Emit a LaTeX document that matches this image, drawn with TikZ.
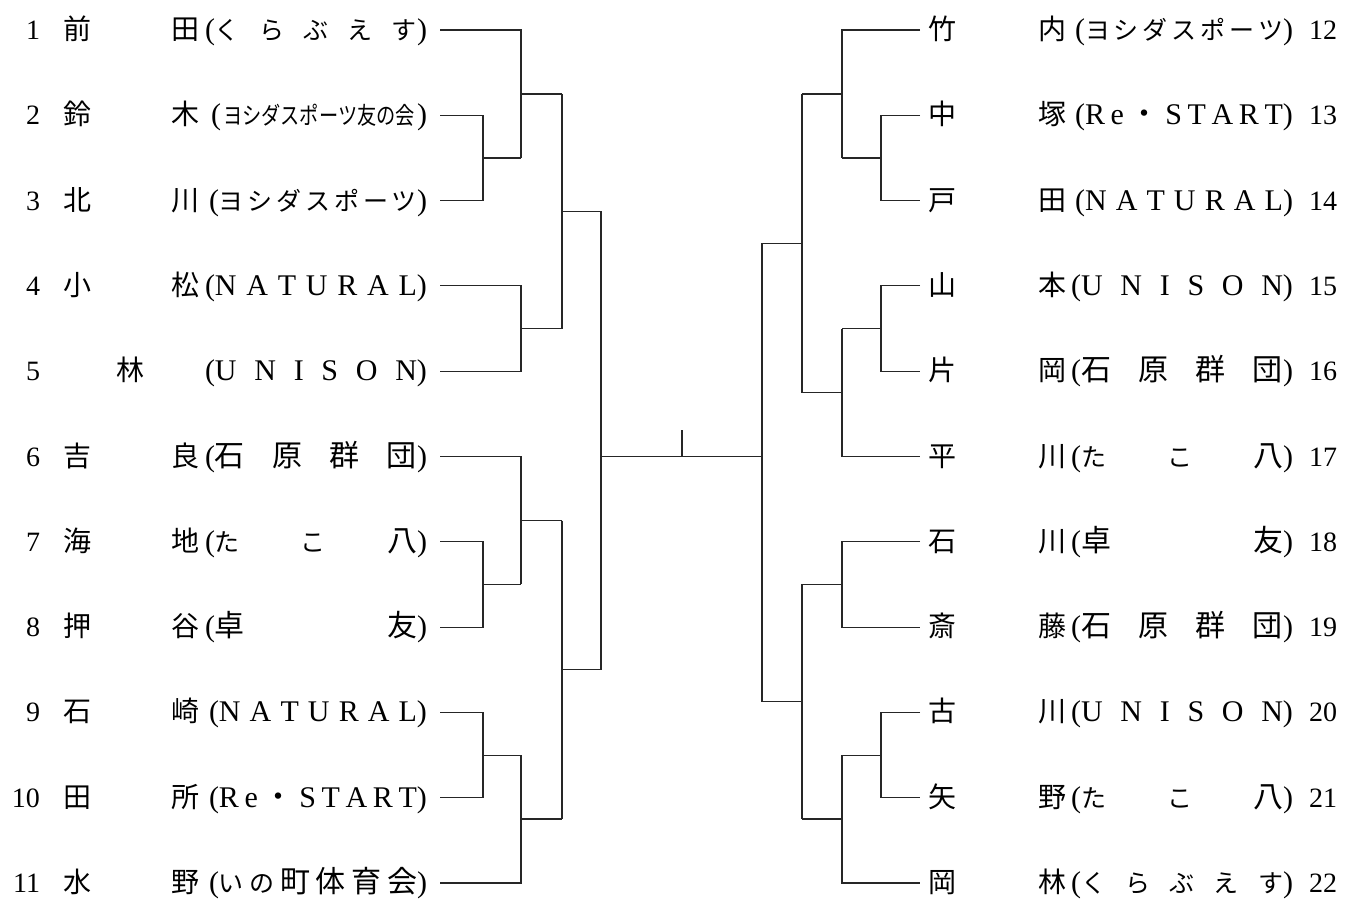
\documentclass[tikz,border=0pt]{standalone}
\usepackage{fontspec}
\usepackage{graphicx}
\setmainfont{Liberation Serif}
\newfontfamily\cjk{Noto Sans CJK JP}
\newcommand\J[1]{{\cjk #1}}
\newcommand\K[1]{{\cjk\fontsize{25}{25}\selectfont #1}}
\newcommand\BL{\fontsize{30}{30}\selectfont}
\newcommand\PB[1]{\hbox to 222pt{\BL #1}}
\newcommand\Lrow[6]{%
  \node[txt, anchor=base east] (n#1) at (40,#2+9.5) {#3};
  \node[txt, anchor=base] (a#1) at (77,#2+9.5) {\J{#4}};
  \node[txt, anchor=base] (b#1) at (185,#2+9.5) {\J{#5}};
  \node[txt, anchor=base west] (p#1) at (205,#2+9.5) {\PB{#6}};
  \coordinate (e#1) at (440,#2);
}
\newcommand\Rrow[6]{%
  \coordinate (e#1) at (920,#2);
  \node[txt, anchor=base] (a#1) at (942,#2+9.5) {\J{#4}};
  \node[txt, anchor=base] (b#1) at (1052,#2+9.5) {\J{#5}};
  \node[txt, anchor=base west] (p#1) at (1071,#2+9.5) {\PB{#6}};
  \node[txt, anchor=base west] (n#1) at (1309,#2+9.5) {#3};
}
\newcommand\NAT{(N\hfill A\hfill T\hfill U\hfill R\hfill A\hfill L)}
\newcommand\UNI{(U\hfill N\hfill I\hfill S\hfill O\hfill N)}
\newcommand\RES{(R\hfill e\hfill \J{・}\hfill S\hfill T\hfill A\hfill R\hfill T)}
\newcommand\YOS{(\K{ヨ}\hfill\K{シ}\hfill\K{ダ}\hfill\K{ス}\hfill\K{ポ}\hfill\K{ー}\hfill\K{ツ})}
\newcommand\KUR{(\K{く}\hfill\K{ら}\hfill\K{ぶ}\hfill\K{え}\hfill\K{す})}
\newcommand\ISH{(\J{石}\hfill\J{原}\hfill\J{群}\hfill\J{団})}
\newcommand\TAK{(\K{た}\hfill\K{こ}\hfill\J{八})}
\newcommand\TAKU{(\J{卓}\hfill\J{友})}
\begin{document}
\begin{tikzpicture}[x=1pt,y=-1pt,
  txt/.style={inner sep=0pt, outer sep=0pt, font=\fontsize{28}{28}\selectfont, text=black},
  lnk/.style={line width=1.1pt, draw=black!85}]
\useasboundingbox (0,0) rectangle (1349,898);
% left rows
\Lrow{1}{30}{1}{前}{田}{\KUR}
\Lrow{2}{115.3}{2}{鈴}{木}{\hspace{6pt}(\hfill\scalebox{0.8}[1]{\fontsize{24}{24}\cjk ヨシダスポーツ友の会}\hfill)}
\Lrow{3}{200.6}{3}{北}{川}{\hspace{4pt}\YOS}
\Lrow{4}{285.9}{4}{小}{松}{\NAT}
\node[txt, anchor=base east] (n5) at (40,380.7) {5};
\node[txt, anchor=base] (a5) at (130,380.7) {\J{林}};
\node[txt, anchor=base west] (p5) at (205,380.7) {\PB{\UNI}};
\coordinate (e5) at (440,371.2);
\Lrow{6}{456.5}{6}{吉}{良}{\ISH}
\Lrow{7}{541.8}{7}{海}{地}{\TAK}
\Lrow{8}{627.1}{8}{押}{谷}{\TAKU}
\Lrow{9}{712.4}{9}{石}{崎}{\hspace{4pt}\NAT}
\Lrow{10}{797.7}{10}{田}{所}{\hspace{4pt}\RES}
\Lrow{11}{883}{11}{水}{野}{\hspace{4pt}(\K{い}\hfill\K{の}\hfill\J{町}\hfill\J{体}\hfill\J{育}\hfill\J{会})}
% right rows
\Rrow{12}{30}{12}{竹}{内}{\hspace{4pt}\YOS}
\Rrow{13}{115.3}{13}{中}{塚}{\hspace{4pt}\RES}
\Rrow{14}{200.6}{14}{戸}{田}{\hspace{4pt}\NAT}
\Rrow{15}{285.9}{15}{山}{本}{\UNI}
\Rrow{16}{371.2}{16}{片}{岡}{\ISH}
\Rrow{17}{456.5}{17}{平}{川}{\TAK}
\Rrow{18}{541.8}{18}{石}{川}{\TAKU}
\Rrow{19}{627.1}{19}{斎}{藤}{\ISH}
\Rrow{20}{712.4}{20}{古}{川}{\UNI}
\Rrow{21}{797.7}{21}{矢}{野}{\TAK}
\Rrow{22}{883}{22}{岡}{林}{\KUR}
% left bracket points
\coordinate (k1) at (483,157.95); \coordinate (o1) at (521,157.95);
\coordinate (k2) at (521,94);     \coordinate (o2) at (562,94);
\coordinate (k3) at (521,328.55); \coordinate (o3) at (562,328.55);
\coordinate (k4) at (562,211.3);  \coordinate (o4) at (601,211.3);
\coordinate (k5) at (483,584.45); \coordinate (o5) at (521,584.45);
\coordinate (k6) at (521,520.5);  \coordinate (o6) at (562,520.5);
\coordinate (k7) at (483,755.05); \coordinate (o7) at (521,755.05);
\coordinate (k8) at (521,819);    \coordinate (o8) at (562,819);
\coordinate (k9) at (562,669.8);  \coordinate (o9) at (601,669.8);
\draw[lnk] (e2) -| (k1) |- (e3); \draw[lnk] (k1) -- (o1);
\draw[lnk] (e1) -| (k2) |- (o1); \draw[lnk] (k2) -- (o2);
\draw[lnk] (e4) -| (k3) |- (e5); \draw[lnk] (k3) -- (o3);
\draw[lnk] (o2) -| (k4) |- (o3); \draw[lnk] (k4) -- (o4);
\draw[lnk] (e7) -| (k5) |- (e8); \draw[lnk] (k5) -- (o5);
\draw[lnk] (e6) -| (k6) |- (o5); \draw[lnk] (k6) -- (o6);
\draw[lnk] (e9) -| (k7) |- (e10); \draw[lnk] (k7) -- (o7);
\draw[lnk] (o7) -| (k8) |- (e11); \draw[lnk] (k8) -- (o8);
\draw[lnk] (o6) -| (k9) |- (o8); \draw[lnk] (k9) -- (o9);
% right bracket points
\coordinate (j1) at (881,157.95); \coordinate (u1) at (842,157.95);
\coordinate (j2) at (842,94);     \coordinate (u2) at (802,94);
\coordinate (j3) at (881,328.55); \coordinate (u3) at (842,328.55);
\coordinate (j4) at (842,392.5);  \coordinate (u4) at (802,392.5);
\coordinate (j5) at (802,243.25); \coordinate (u5) at (762,243.25);
\coordinate (j6) at (842,584.45); \coordinate (u6) at (802,584.45);
\coordinate (j7) at (881,755.05); \coordinate (u7) at (842,755.05);
\coordinate (j8) at (842,819);    \coordinate (u8) at (802,819);
\coordinate (j9) at (802,701.8);  \coordinate (u9) at (762,701.8);
\draw[lnk] (e13) -| (j1) |- (e14); \draw[lnk] (j1) -- (u1);
\draw[lnk] (e12) -| (j2) |- (u1); \draw[lnk] (j2) -- (u2);
\draw[lnk] (e15) -| (j3) |- (e16); \draw[lnk] (j3) -- (u3);
\draw[lnk] (u3) -| (j4) |- (e17); \draw[lnk] (j4) -- (u4);
\draw[lnk] (u2) -| (j5) |- (u4); \draw[lnk] (j5) -- (u5);
\draw[lnk] (e18) -| (j6) |- (e19); \draw[lnk] (j6) -- (u6);
\draw[lnk] (e20) -| (j7) |- (e21); \draw[lnk] (j7) -- (u7);
\draw[lnk] (u7) -| (j8) |- (e22); \draw[lnk] (j8) -- (u8);
\draw[lnk] (u6) -| (j9) |- (u8); \draw[lnk] (j9) -- (u9);
% final
\coordinate (cL) at (601,456.5); \coordinate (cR) at (762,456.5);
\coordinate (tt) at (682,430);   \coordinate (tb) at (682,456.5);
\draw[lnk] (o4) -- (o9);
\draw[lnk] (u5) -- (u9);
\draw[lnk] (cL) -- (cR);
\draw[lnk] (tt) -- (tb);
\end{tikzpicture}
\end{document}
